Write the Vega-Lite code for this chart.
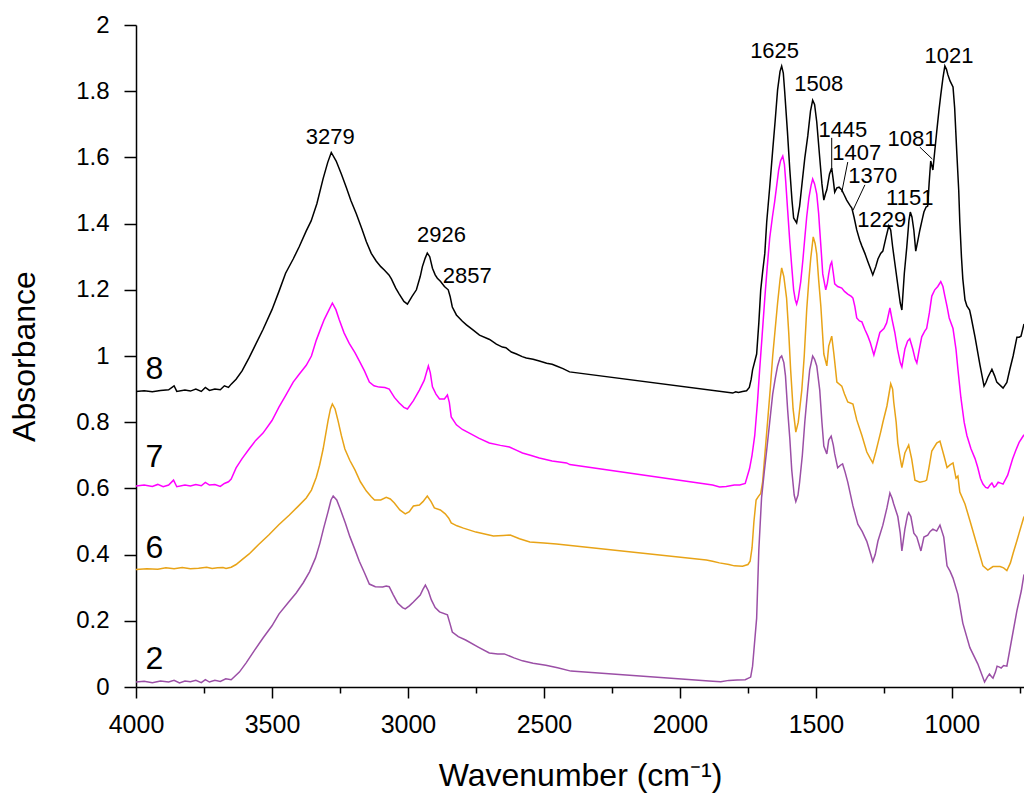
{
"$schema":"https://vega.github.io/schema/vega-lite/v6.json",
"width":888,"height":662,
"autosize":{"type":"none"},
"padding":{"left":136,"top":25,"right":0,"bottom":108},
"background":"white",
"config":{"view":{"stroke":null},"font":"Liberation Sans"},
"datasets":{
"spectra":[
{"s":"8","w":4000,"a":0.893},{"s":"8","w":3970,"a":0.895},{"s":"8","w":3940,"a":0.892},{"s":"8","w":3910,"a":0.896},{"s":"8","w":3880,"a":0.898},{"s":"8","w":3860,"a":0.91},{"s":"8","w":3850,"a":0.893},{"s":"8","w":3820,"a":0.897},{"s":"8","w":3800,"a":0.894},{"s":"8","w":3780,"a":0.9},{"s":"8","w":3760,"a":0.893},{"s":"8","w":3745,"a":0.905},{"s":"8","w":3730,"a":0.896},{"s":"8","w":3710,"a":0.9},{"s":"8","w":3690,"a":0.898},{"s":"8","w":3675,"a":0.91},{"s":"8","w":3660,"a":0.905},{"s":"8","w":3650,"a":0.915},{"s":"8","w":3632,"a":0.93},{"s":"8","w":3610,"a":0.955},{"s":"8","w":3584,"a":0.995},{"s":"8","w":3560,"a":1.035},{"s":"8","w":3533,"a":1.08},{"s":"8","w":3500,"a":1.14},{"s":"8","w":3474,"a":1.196},{"s":"8","w":3450,"a":1.25},{"s":"8","w":3422,"a":1.293},{"s":"8","w":3400,"a":1.33},{"s":"8","w":3374,"a":1.378},{"s":"8","w":3356,"a":1.408},{"s":"8","w":3335,"a":1.46},{"s":"8","w":3312,"a":1.536},{"s":"8","w":3295,"a":1.585},{"s":"8","w":3282,"a":1.615},{"s":"8","w":3264,"a":1.589},{"s":"8","w":3245,"a":1.55},{"s":"8","w":3227,"a":1.51},{"s":"8","w":3210,"a":1.47},{"s":"8","w":3190,"a":1.43},{"s":"8","w":3170,"a":1.385},{"s":"8","w":3153,"a":1.345},{"s":"8","w":3135,"a":1.31},{"s":"8","w":3117,"a":1.287},{"s":"8","w":3100,"a":1.27},{"s":"8","w":3087,"a":1.26},{"s":"8","w":3070,"a":1.245},{"s":"8","w":3061,"a":1.233},{"s":"8","w":3045,"a":1.205},{"s":"8","w":3032,"a":1.187},{"s":"8","w":3015,"a":1.165},{"s":"8","w":3002,"a":1.157},{"s":"8","w":2985,"a":1.18},{"s":"8","w":2969,"a":1.2},{"s":"8","w":2955,"a":1.24},{"s":"8","w":2947,"a":1.27},{"s":"8","w":2937,"a":1.295},{"s":"8","w":2929,"a":1.311},{"s":"8","w":2920,"a":1.3},{"s":"8","w":2910,"a":1.265},{"s":"8","w":2900,"a":1.245},{"s":"8","w":2892,"a":1.235},{"s":"8","w":2880,"a":1.225},{"s":"8","w":2866,"a":1.21},{"s":"8","w":2852,"a":1.2},{"s":"8","w":2845,"a":1.18},{"s":"8","w":2837,"a":1.148},{"s":"8","w":2822,"a":1.124},{"s":"8","w":2800,"a":1.105},{"s":"8","w":2785,"a":1.094},{"s":"8","w":2760,"a":1.078},{"s":"8","w":2737,"a":1.063},{"s":"8","w":2700,"a":1.05},{"s":"8","w":2675,"a":1.036},{"s":"8","w":2653,"a":1.027},{"s":"8","w":2640,"a":1.025},{"s":"8","w":2620,"a":1.012},{"s":"8","w":2601,"a":1.006},{"s":"8","w":2580,"a":0.998},{"s":"8","w":2565,"a":0.994},{"s":"8","w":2540,"a":0.99},{"s":"8","w":2517,"a":0.985},{"s":"8","w":2490,"a":0.978},{"s":"8","w":2470,"a":0.975},{"s":"8","w":2454,"a":0.97},{"s":"8","w":2430,"a":0.962},{"s":"8","w":2406,"a":0.952},{"s":"8","w":1806,"a":0.888},{"s":"8","w":1795,"a":0.892},{"s":"8","w":1785,"a":0.89},{"s":"8","w":1770,"a":0.893},{"s":"8","w":1755,"a":0.895},{"s":"8","w":1745,"a":0.905},{"s":"8","w":1738,"a":0.93},{"s":"8","w":1733,"a":0.958},{"s":"8","w":1718,"a":1.006},{"s":"8","w":1710,"a":1.1},{"s":"8","w":1703,"a":1.2},{"s":"8","w":1696,"a":1.254},{"s":"8","w":1688,"a":1.31},{"s":"8","w":1681,"a":1.405},{"s":"8","w":1670,"a":1.51},{"s":"8","w":1659,"a":1.622},{"s":"8","w":1650,"a":1.71},{"s":"8","w":1641,"a":1.804},{"s":"8","w":1632,"a":1.86},{"s":"8","w":1626,"a":1.876},{"s":"8","w":1620,"a":1.855},{"s":"8","w":1615,"a":1.8},{"s":"8","w":1605,"a":1.68},{"s":"8","w":1596,"a":1.562},{"s":"8","w":1588,"a":1.47},{"s":"8","w":1582,"a":1.417},{"s":"8","w":1571,"a":1.402},{"s":"8","w":1560,"a":1.453},{"s":"8","w":1550,"a":1.53},{"s":"8","w":1541,"a":1.598},{"s":"8","w":1530,"a":1.665},{"s":"8","w":1520,"a":1.74},{"s":"8","w":1512,"a":1.773},{"s":"8","w":1505,"a":1.76},{"s":"8","w":1497,"a":1.707},{"s":"8","w":1486,"a":1.598},{"s":"8","w":1478,"a":1.52},{"s":"8","w":1471,"a":1.471},{"s":"8","w":1465,"a":1.49},{"s":"8","w":1460,"a":1.502},{"s":"8","w":1450,"a":1.55},{"s":"8","w":1442,"a":1.568},{"s":"8","w":1436,"a":1.53},{"s":"8","w":1431,"a":1.495},{"s":"8","w":1423,"a":1.508},{"s":"8","w":1415,"a":1.51},{"s":"8","w":1405,"a":1.502},{"s":"8","w":1395,"a":1.485},{"s":"8","w":1387,"a":1.471},{"s":"8","w":1375,"a":1.455},{"s":"8","w":1368,"a":1.447},{"s":"8","w":1360,"a":1.42},{"s":"8","w":1350,"a":1.381},{"s":"8","w":1339,"a":1.35},{"s":"8","w":1331,"a":1.332},{"s":"8","w":1320,"a":1.31},{"s":"8","w":1309,"a":1.285},{"s":"8","w":1300,"a":1.265},{"s":"8","w":1291,"a":1.245},{"s":"8","w":1280,"a":1.27},{"s":"8","w":1272,"a":1.293},{"s":"8","w":1262,"a":1.31},{"s":"8","w":1254,"a":1.317},{"s":"8","w":1242,"a":1.36},{"s":"8","w":1232,"a":1.393},{"s":"8","w":1225,"a":1.38},{"s":"8","w":1218,"a":1.33},{"s":"8","w":1210,"a":1.281},{"s":"8","w":1200,"a":1.22},{"s":"8","w":1190,"a":1.16},{"s":"8","w":1184,"a":1.139},{"s":"8","w":1175,"a":1.25},{"s":"8","w":1166,"a":1.329},{"s":"8","w":1158,"a":1.41},{"s":"8","w":1153,"a":1.435},{"s":"8","w":1147,"a":1.42},{"s":"8","w":1140,"a":1.38},{"s":"8","w":1133,"a":1.317},{"s":"8","w":1125,"a":1.35},{"s":"8","w":1118,"a":1.38},{"s":"8","w":1110,"a":1.41},{"s":"8","w":1103,"a":1.435},{"s":"8","w":1095,"a":1.45},{"s":"8","w":1089,"a":1.453},{"s":"8","w":1084,"a":1.52},{"s":"8","w":1078,"a":1.589},{"s":"8","w":1070,"a":1.562},{"s":"8","w":1063,"a":1.62},{"s":"8","w":1056,"a":1.677},{"s":"8","w":1048,"a":1.74},{"s":"8","w":1041,"a":1.789},{"s":"8","w":1033,"a":1.84},{"s":"8","w":1026,"a":1.876},{"s":"8","w":1020,"a":1.866},{"s":"8","w":1015,"a":1.85},{"s":"8","w":1007,"a":1.831},{"s":"8","w":996,"a":1.813},{"s":"8","w":990,"a":1.75},{"s":"8","w":982,"a":1.613},{"s":"8","w":975,"a":1.5},{"s":"8","w":971,"a":1.405},{"s":"8","w":965,"a":1.3},{"s":"8","w":960,"a":1.233},{"s":"8","w":952,"a":1.17},{"s":"8","w":945,"a":1.151},{"s":"8","w":935,"a":1.139},{"s":"8","w":930,"a":1.12},{"s":"8","w":915,"a":1.057},{"s":"8","w":897,"a":0.973},{"s":"8","w":882,"a":0.909},{"s":"8","w":875,"a":0.92},{"s":"8","w":868,"a":0.935},{"s":"8","w":853,"a":0.96},{"s":"8","w":843,"a":0.94},{"s":"8","w":835,"a":0.921},{"s":"8","w":812,"a":0.903},{"s":"8","w":798,"a":0.92},{"s":"8","w":787,"a":0.96},{"s":"8","w":775,"a":1.0},{"s":"8","w":761,"a":1.057},{"s":"8","w":753,"a":1.057},{"s":"8","w":746,"a":1.06},{"s":"8","w":735,"a":1.097},

{"s":"7","w":4000,"a":0.607},{"s":"7","w":3970,"a":0.61},{"s":"7","w":3940,"a":0.606},{"s":"7","w":3920,"a":0.612},{"s":"7","w":3900,"a":0.605},{"s":"7","w":3880,"a":0.61},{"s":"7","w":3862,"a":0.625},{"s":"7","w":3850,"a":0.605},{"s":"7","w":3820,"a":0.61},{"s":"7","w":3800,"a":0.607},{"s":"7","w":3780,"a":0.612},{"s":"7","w":3760,"a":0.608},{"s":"7","w":3745,"a":0.618},{"s":"7","w":3730,"a":0.61},{"s":"7","w":3710,"a":0.612},{"s":"7","w":3690,"a":0.606},{"s":"7","w":3675,"a":0.615},{"s":"7","w":3660,"a":0.62},{"s":"7","w":3650,"a":0.628},{"s":"7","w":3632,"a":0.662},{"s":"7","w":3610,"a":0.69},{"s":"7","w":3584,"a":0.719},{"s":"7","w":3560,"a":0.745},{"s":"7","w":3533,"a":0.767},{"s":"7","w":3500,"a":0.805},{"s":"7","w":3474,"a":0.846},{"s":"7","w":3450,"a":0.88},{"s":"7","w":3422,"a":0.921},{"s":"7","w":3400,"a":0.945},{"s":"7","w":3374,"a":0.972},{"s":"7","w":3355,"a":1.0},{"s":"7","w":3337,"a":1.048},{"s":"7","w":3320,"a":1.085},{"s":"7","w":3308,"a":1.11},{"s":"7","w":3290,"a":1.14},{"s":"7","w":3278,"a":1.16},{"s":"7","w":3265,"a":1.14},{"s":"7","w":3253,"a":1.11},{"s":"7","w":3235,"a":1.07},{"s":"7","w":3216,"a":1.038},{"s":"7","w":3195,"a":1.01},{"s":"7","w":3179,"a":0.985},{"s":"7","w":3160,"a":0.955},{"s":"7","w":3142,"a":0.921},{"s":"7","w":3125,"a":0.91},{"s":"7","w":3106,"a":0.906},{"s":"7","w":3085,"a":0.905},{"s":"7","w":3069,"a":0.9},{"s":"7","w":3050,"a":0.875},{"s":"7","w":3032,"a":0.858},{"s":"7","w":3015,"a":0.845},{"s":"7","w":3002,"a":0.84},{"s":"7","w":2980,"a":0.865},{"s":"7","w":2958,"a":0.897},{"s":"7","w":2940,"a":0.927},{"s":"7","w":2932,"a":0.95},{"s":"7","w":2925,"a":0.97},{"s":"7","w":2918,"a":0.95},{"s":"7","w":2910,"a":0.907},{"s":"7","w":2897,"a":0.885},{"s":"7","w":2884,"a":0.87},{"s":"7","w":2866,"a":0.87},{"s":"7","w":2855,"a":0.882},{"s":"7","w":2848,"a":0.86},{"s":"7","w":2841,"a":0.816},{"s":"7","w":2822,"a":0.792},{"s":"7","w":2800,"a":0.778},{"s":"7","w":2774,"a":0.767},{"s":"7","w":2740,"a":0.752},{"s":"7","w":2701,"a":0.737},{"s":"7","w":2660,"a":0.73},{"s":"7","w":2627,"a":0.725},{"s":"7","w":2600,"a":0.715},{"s":"7","w":2579,"a":0.707},{"s":"7","w":2550,"a":0.7},{"s":"7","w":2517,"a":0.692},{"s":"7","w":2470,"a":0.683},{"s":"7","w":2417,"a":0.677},{"s":"7","w":2405,"a":0.672},{"s":"7","w":1880,"a":0.61},{"s":"7","w":1854,"a":0.604},{"s":"7","w":1830,"a":0.606},{"s":"7","w":1800,"a":0.61},{"s":"7","w":1780,"a":0.61},{"s":"7","w":1760,"a":0.615},{"s":"7","w":1744,"a":0.66},{"s":"7","w":1735,"a":0.7},{"s":"7","w":1725,"a":0.76},{"s":"7","w":1715,"a":0.86},{"s":"7","w":1707,"a":0.958},{"s":"7","w":1698,"a":1.06},{"s":"7","w":1688,"a":1.175},{"s":"7","w":1679,"a":1.27},{"s":"7","w":1670,"a":1.356},{"s":"7","w":1660,"a":1.42},{"s":"7","w":1652,"a":1.465},{"s":"7","w":1645,"a":1.51},{"s":"7","w":1637,"a":1.562},{"s":"7","w":1630,"a":1.59},{"s":"7","w":1622,"a":1.604},{"s":"7","w":1616,"a":1.58},{"s":"7","w":1611,"a":1.526},{"s":"7","w":1604,"a":1.44},{"s":"7","w":1596,"a":1.344},{"s":"7","w":1589,"a":1.27},{"s":"7","w":1582,"a":1.2},{"s":"7","w":1576,"a":1.17},{"s":"7","w":1571,"a":1.157},{"s":"7","w":1565,"a":1.175},{"s":"7","w":1556,"a":1.224},{"s":"7","w":1548,"a":1.29},{"s":"7","w":1541,"a":1.356},{"s":"7","w":1534,"a":1.42},{"s":"7","w":1526,"a":1.477},{"s":"7","w":1518,"a":1.515},{"s":"7","w":1512,"a":1.535},{"s":"7","w":1505,"a":1.52},{"s":"7","w":1497,"a":1.489},{"s":"7","w":1490,"a":1.43},{"s":"7","w":1486,"a":1.381},{"s":"7","w":1480,"a":1.31},{"s":"7","w":1475,"a":1.248},{"s":"7","w":1464,"a":1.2},{"s":"7","w":1458,"a":1.22},{"s":"7","w":1453,"a":1.248},{"s":"7","w":1447,"a":1.275},{"s":"7","w":1442,"a":1.284},{"s":"7","w":1436,"a":1.25},{"s":"7","w":1431,"a":1.218},{"s":"7","w":1420,"a":1.21},{"s":"7","w":1405,"a":1.205},{"s":"7","w":1395,"a":1.195},{"s":"7","w":1383,"a":1.187},{"s":"7","w":1370,"a":1.18},{"s":"7","w":1364,"a":1.175},{"s":"7","w":1357,"a":1.15},{"s":"7","w":1350,"a":1.115},{"s":"7","w":1340,"a":1.106},{"s":"7","w":1331,"a":1.103},{"s":"7","w":1320,"a":1.08},{"s":"7","w":1309,"a":1.06},{"s":"7","w":1300,"a":1.04},{"s":"7","w":1287,"a":1.003},{"s":"7","w":1278,"a":1.03},{"s":"7","w":1265,"a":1.071},{"s":"7","w":1250,"a":1.083},{"s":"7","w":1240,"a":1.1},{"s":"7","w":1228,"a":1.145},{"s":"7","w":1220,"a":1.11},{"s":"7","w":1210,"a":1.071},{"s":"7","w":1200,"a":1.02},{"s":"7","w":1190,"a":0.98},{"s":"7","w":1184,"a":0.967},{"s":"7","w":1173,"a":1.021},{"s":"7","w":1163,"a":1.045},{"s":"7","w":1155,"a":1.052},{"s":"7","w":1144,"a":1.021},{"s":"7","w":1135,"a":0.99},{"s":"7","w":1129,"a":0.979},{"s":"7","w":1120,"a":1.02},{"s":"7","w":1111,"a":1.058},{"s":"7","w":1100,"a":1.075},{"s":"7","w":1093,"a":1.083},{"s":"7","w":1083,"a":1.13},{"s":"7","w":1074,"a":1.181},{"s":"7","w":1063,"a":1.2},{"s":"7","w":1052,"a":1.21},{"s":"7","w":1041,"a":1.225},{"s":"7","w":1033,"a":1.21},{"s":"7","w":1026,"a":1.181},{"s":"7","w":1018,"a":1.15},{"s":"7","w":1010,"a":1.115},{"s":"7","w":996,"a":1.083},{"s":"7","w":985,"a":1.02},{"s":"7","w":978,"a":0.96},{"s":"7","w":967,"a":0.874},{"s":"7","w":955,"a":0.8},{"s":"7","w":945,"a":0.76},{"s":"7","w":930,"a":0.72},{"s":"7","w":915,"a":0.69},{"s":"7","w":905,"a":0.663},{"s":"7","w":895,"a":0.63},{"s":"7","w":886,"a":0.613},{"s":"7","w":876,"a":0.603},{"s":"7","w":868,"a":0.601},{"s":"7","w":860,"a":0.61},{"s":"7","w":853,"a":0.616},{"s":"7","w":845,"a":0.604},{"s":"7","w":838,"a":0.608},{"s":"7","w":830,"a":0.619},{"s":"7","w":812,"a":0.613},{"s":"7","w":795,"a":0.64},{"s":"7","w":777,"a":0.689},{"s":"7","w":765,"a":0.715},{"s":"7","w":753,"a":0.739},{"s":"7","w":735,"a":0.762},

{"s":"6","w":4000,"a":0.355},{"s":"6","w":3960,"a":0.357},{"s":"6","w":3920,"a":0.356},{"s":"6","w":3890,"a":0.36},{"s":"6","w":3860,"a":0.357},{"s":"6","w":3830,"a":0.361},{"s":"6","w":3800,"a":0.357},{"s":"6","w":3770,"a":0.359},{"s":"6","w":3740,"a":0.362},{"s":"6","w":3720,"a":0.358},{"s":"6","w":3700,"a":0.36},{"s":"6","w":3680,"a":0.361},{"s":"6","w":3669,"a":0.358},{"s":"6","w":3650,"a":0.362},{"s":"6","w":3632,"a":0.37},{"s":"6","w":3610,"a":0.385},{"s":"6","w":3584,"a":0.402},{"s":"6","w":3550,"a":0.43},{"s":"6","w":3511,"a":0.46},{"s":"6","w":3475,"a":0.49},{"s":"6","w":3437,"a":0.519},{"s":"6","w":3405,"a":0.545},{"s":"6","w":3374,"a":0.571},{"s":"6","w":3355,"a":0.595},{"s":"6","w":3337,"a":0.634},{"s":"6","w":3325,"a":0.67},{"s":"6","w":3312,"a":0.719},{"s":"6","w":3294,"a":0.804},{"s":"6","w":3285,"a":0.84},{"s":"6","w":3278,"a":0.855},{"s":"6","w":3268,"a":0.84},{"s":"6","w":3257,"a":0.804},{"s":"6","w":3245,"a":0.76},{"s":"6","w":3232,"a":0.719},{"s":"6","w":3214,"a":0.685},{"s":"6","w":3195,"a":0.656},{"s":"6","w":3175,"a":0.62},{"s":"6","w":3153,"a":0.592},{"s":"6","w":3135,"a":0.575},{"s":"6","w":3123,"a":0.565},{"s":"6","w":3100,"a":0.565},{"s":"6","w":3080,"a":0.573},{"s":"6","w":3065,"a":0.568},{"s":"6","w":3050,"a":0.556},{"s":"6","w":3030,"a":0.535},{"s":"6","w":3010,"a":0.523},{"s":"6","w":2995,"a":0.53},{"s":"6","w":2980,"a":0.547},{"s":"6","w":2958,"a":0.55},{"s":"6","w":2945,"a":0.56},{"s":"6","w":2929,"a":0.577},{"s":"6","w":2915,"a":0.56},{"s":"6","w":2903,"a":0.541},{"s":"6","w":2881,"a":0.535},{"s":"6","w":2863,"a":0.523},{"s":"6","w":2850,"a":0.51},{"s":"6","w":2841,"a":0.496},{"s":"6","w":2820,"a":0.487},{"s":"6","w":2796,"a":0.48},{"s":"6","w":2750,"a":0.468},{"s":"6","w":2686,"a":0.456},{"s":"6","w":2650,"a":0.458},{"s":"6","w":2624,"a":0.459},{"s":"6","w":2590,"a":0.448},{"s":"6","w":2552,"a":0.438},{"s":"6","w":2500,"a":0.435},{"s":"6","w":2454,"a":0.432},{"s":"6","w":1903,"a":0.384},{"s":"6","w":1880,"a":0.38},{"s":"6","w":1855,"a":0.375},{"s":"6","w":1820,"a":0.37},{"s":"6","w":1800,"a":0.366},{"s":"6","w":1770,"a":0.365},{"s":"6","w":1750,"a":0.37},{"s":"6","w":1742,"a":0.38},{"s":"6","w":1735,"a":0.42},{"s":"6","w":1728,"a":0.5},{"s":"6","w":1720,"a":0.565},{"s":"6","w":1712,"a":0.575},{"s":"6","w":1703,"a":0.585},{"s":"6","w":1696,"a":0.62},{"s":"6","w":1688,"a":0.7},{"s":"6","w":1678,"a":0.8},{"s":"6","w":1668,"a":0.9},{"s":"6","w":1659,"a":1.0},{"s":"6","w":1650,"a":1.08},{"s":"6","w":1641,"a":1.16},{"s":"6","w":1632,"a":1.23},{"s":"6","w":1626,"a":1.266},{"s":"6","w":1618,"a":1.24},{"s":"6","w":1608,"a":1.175},{"s":"6","w":1600,"a":1.07},{"s":"6","w":1593,"a":0.958},{"s":"6","w":1584,"a":0.84},{"s":"6","w":1574,"a":0.77},{"s":"6","w":1565,"a":0.8},{"s":"6","w":1552,"a":0.897},{"s":"6","w":1543,"a":1.0},{"s":"6","w":1534,"a":1.139},{"s":"6","w":1526,"a":1.23},{"s":"6","w":1519,"a":1.296},{"s":"6","w":1510,"a":1.36},{"s":"6","w":1503,"a":1.34},{"s":"6","w":1497,"a":1.308},{"s":"6","w":1490,"a":1.23},{"s":"6","w":1482,"a":1.151},{"s":"6","w":1471,"a":1.006},{"s":"6","w":1460,"a":0.97},{"s":"6","w":1453,"a":1.03},{"s":"6","w":1442,"a":1.06},{"s":"6","w":1434,"a":1.006},{"s":"6","w":1423,"a":0.921},{"s":"6","w":1405,"a":0.909},{"s":"6","w":1395,"a":0.885},{"s":"6","w":1383,"a":0.861},{"s":"6","w":1364,"a":0.855},{"s":"6","w":1350,"a":0.807},{"s":"6","w":1331,"a":0.76},{"s":"6","w":1313,"a":0.71},{"s":"6","w":1300,"a":0.69},{"s":"6","w":1291,"a":0.677},{"s":"6","w":1280,"a":0.71},{"s":"6","w":1272,"a":0.737},{"s":"6","w":1262,"a":0.77},{"s":"6","w":1254,"a":0.799},{"s":"6","w":1239,"a":0.849},{"s":"6","w":1225,"a":0.916},{"s":"6","w":1218,"a":0.9},{"s":"6","w":1214,"a":0.861},{"s":"6","w":1205,"a":0.8},{"s":"6","w":1199,"a":0.737},{"s":"6","w":1190,"a":0.69},{"s":"6","w":1184,"a":0.663},{"s":"6","w":1173,"a":0.707},{"s":"6","w":1159,"a":0.731},{"s":"6","w":1148,"a":0.689},{"s":"6","w":1136,"a":0.625},{"s":"6","w":1118,"a":0.619},{"s":"6","w":1100,"a":0.622},{"s":"6","w":1093,"a":0.625},{"s":"6","w":1085,"a":0.66},{"s":"6","w":1074,"a":0.713},{"s":"6","w":1056,"a":0.737},{"s":"6","w":1044,"a":0.743},{"s":"6","w":1030,"a":0.701},{"s":"6","w":1018,"a":0.663},{"s":"6","w":1007,"a":0.671},{"s":"6","w":996,"a":0.677},{"s":"6","w":985,"a":0.631},{"s":"6","w":978,"a":0.637},{"s":"6","w":971,"a":0.589},{"s":"6","w":952,"a":0.553},{"s":"6","w":934,"a":0.503},{"s":"6","w":908,"a":0.429},{"s":"6","w":886,"a":0.366},{"s":"6","w":868,"a":0.353},{"s":"6","w":849,"a":0.364},{"s":"6","w":823,"a":0.364},{"s":"6","w":810,"a":0.36},{"s":"6","w":798,"a":0.352},{"s":"6","w":785,"a":0.375},{"s":"6","w":775,"a":0.404},{"s":"6","w":760,"a":0.445},{"s":"6","w":753,"a":0.465},{"s":"6","w":735,"a":0.515},

{"s":"2","w":4000,"a":0.015},{"s":"2","w":3970,"a":0.017},{"s":"2","w":3940,"a":0.013},{"s":"2","w":3910,"a":0.018},{"s":"2","w":3880,"a":0.015},{"s":"2","w":3860,"a":0.02},{"s":"2","w":3840,"a":0.012},{"s":"2","w":3820,"a":0.018},{"s":"2","w":3800,"a":0.016},{"s":"2","w":3780,"a":0.02},{"s":"2","w":3760,"a":0.013},{"s":"2","w":3745,"a":0.022},{"s":"2","w":3730,"a":0.015},{"s":"2","w":3710,"a":0.02},{"s":"2","w":3690,"a":0.017},{"s":"2","w":3670,"a":0.025},{"s":"2","w":3650,"a":0.022},{"s":"2","w":3620,"a":0.045},{"s":"2","w":3595,"a":0.073},{"s":"2","w":3565,"a":0.11},{"s":"2","w":3533,"a":0.148},{"s":"2","w":3500,"a":0.185},{"s":"2","w":3474,"a":0.221},{"s":"2","w":3440,"a":0.255},{"s":"2","w":3411,"a":0.284},{"s":"2","w":3385,"a":0.315},{"s":"2","w":3362,"a":0.348},{"s":"2","w":3340,"a":0.39},{"s":"2","w":3324,"a":0.434},{"s":"2","w":3310,"a":0.48},{"s":"2","w":3294,"a":0.529},{"s":"2","w":3283,"a":0.565},{"s":"2","w":3275,"a":0.577},{"s":"2","w":3262,"a":0.565},{"s":"2","w":3250,"a":0.54},{"s":"2","w":3230,"a":0.495},{"s":"2","w":3214,"a":0.455},{"s":"2","w":3195,"a":0.415},{"s":"2","w":3179,"a":0.38},{"s":"2","w":3160,"a":0.345},{"s":"2","w":3142,"a":0.311},{"s":"2","w":3120,"a":0.303},{"s":"2","w":3093,"a":0.302},{"s":"2","w":3080,"a":0.305},{"s":"2","w":3069,"a":0.303},{"s":"2","w":3055,"a":0.28},{"s":"2","w":3038,"a":0.254},{"s":"2","w":3020,"a":0.24},{"s":"2","w":3010,"a":0.236},{"s":"2","w":2995,"a":0.245},{"s":"2","w":2980,"a":0.257},{"s":"2","w":2955,"a":0.278},{"s":"2","w":2945,"a":0.295},{"s":"2","w":2936,"a":0.308},{"s":"2","w":2925,"a":0.29},{"s":"2","w":2914,"a":0.263},{"s":"2","w":2900,"a":0.24},{"s":"2","w":2884,"a":0.227},{"s":"2","w":2855,"a":0.218},{"s":"2","w":2845,"a":0.19},{"s":"2","w":2837,"a":0.166},{"s":"2","w":2815,"a":0.152},{"s":"2","w":2788,"a":0.142},{"s":"2","w":2740,"a":0.12},{"s":"2","w":2701,"a":0.103},{"s":"2","w":2670,"a":0.1},{"s":"2","w":2646,"a":0.1},{"s":"2","w":2610,"a":0.088},{"s":"2","w":2579,"a":0.079},{"s":"2","w":2540,"a":0.072},{"s":"2","w":2493,"a":0.066},{"s":"2","w":2450,"a":0.058},{"s":"2","w":2401,"a":0.048},{"s":"2","w":1893,"a":0.018},{"s":"2","w":1850,"a":0.016},{"s":"2","w":1820,"a":0.02},{"s":"2","w":1790,"a":0.021},{"s":"2","w":1760,"a":0.022},{"s":"2","w":1740,"a":0.03},{"s":"2","w":1733,"a":0.063},{"s":"2","w":1718,"a":0.208},{"s":"2","w":1710,"a":0.414},{"s":"2","w":1700,"a":0.571},{"s":"2","w":1690,"a":0.65},{"s":"2","w":1681,"a":0.716},{"s":"2","w":1670,"a":0.8},{"s":"2","w":1659,"a":0.885},{"s":"2","w":1650,"a":0.93},{"s":"2","w":1641,"a":0.97},{"s":"2","w":1632,"a":0.995},{"s":"2","w":1626,"a":1.0},{"s":"2","w":1618,"a":0.98},{"s":"2","w":1612,"a":0.94},{"s":"2","w":1604,"a":0.837},{"s":"2","w":1596,"a":0.75},{"s":"2","w":1589,"a":0.656},{"s":"2","w":1580,"a":0.58},{"s":"2","w":1574,"a":0.56},{"s":"2","w":1566,"a":0.58},{"s":"2","w":1560,"a":0.619},{"s":"2","w":1550,"a":0.7},{"s":"2","w":1541,"a":0.8},{"s":"2","w":1530,"a":0.9},{"s":"2","w":1523,"a":0.958},{"s":"2","w":1512,"a":1.0},{"s":"2","w":1505,"a":0.99},{"s":"2","w":1497,"a":0.97},{"s":"2","w":1486,"a":0.897},{"s":"2","w":1478,"a":0.8},{"s":"2","w":1471,"a":0.728},{"s":"2","w":1460,"a":0.704},{"s":"2","w":1453,"a":0.746},{"s":"2","w":1444,"a":0.758},{"s":"2","w":1436,"a":0.73},{"s":"2","w":1431,"a":0.704},{"s":"2","w":1420,"a":0.662},{"s":"2","w":1410,"a":0.67},{"s":"2","w":1402,"a":0.674},{"s":"2","w":1393,"a":0.65},{"s":"2","w":1383,"a":0.619},{"s":"2","w":1364,"a":0.547},{"s":"2","w":1346,"a":0.492},{"s":"2","w":1330,"a":0.47},{"s":"2","w":1313,"a":0.44},{"s":"2","w":1300,"a":0.405},{"s":"2","w":1291,"a":0.379},{"s":"2","w":1282,"a":0.4},{"s":"2","w":1272,"a":0.441},{"s":"2","w":1254,"a":0.489},{"s":"2","w":1239,"a":0.541},{"s":"2","w":1228,"a":0.586},{"s":"2","w":1220,"a":0.57},{"s":"2","w":1214,"a":0.553},{"s":"2","w":1199,"a":0.515},{"s":"2","w":1190,"a":0.465},{"s":"2","w":1184,"a":0.411},{"s":"2","w":1173,"a":0.477},{"s":"2","w":1163,"a":0.52},{"s":"2","w":1159,"a":0.527},{"s":"2","w":1151,"a":0.515},{"s":"2","w":1140,"a":0.465},{"s":"2","w":1129,"a":0.453},{"s":"2","w":1114,"a":0.411},{"s":"2","w":1103,"a":0.453},{"s":"2","w":1089,"a":0.459},{"s":"2","w":1080,"a":0.47},{"s":"2","w":1070,"a":0.477},{"s":"2","w":1056,"a":0.471},{"s":"2","w":1044,"a":0.489},{"s":"2","w":1030,"a":0.453},{"s":"2","w":1018,"a":0.366},{"s":"2","w":1007,"a":0.35},{"s":"2","w":996,"a":0.329},{"s":"2","w":978,"a":0.28},{"s":"2","w":960,"a":0.193},{"s":"2","w":934,"a":0.119},{"s":"2","w":905,"a":0.07},{"s":"2","w":880,"a":0.015},{"s":"2","w":870,"a":0.03},{"s":"2","w":862,"a":0.039},{"s":"2","w":855,"a":0.032},{"s":"2","w":849,"a":0.027},{"s":"2","w":840,"a":0.045},{"s":"2","w":834,"a":0.063},{"s":"2","w":825,"a":0.06},{"s":"2","w":819,"a":0.057},{"s":"2","w":810,"a":0.065},{"s":"2","w":798,"a":0.063},{"s":"2","w":780,"a":0.145},{"s":"2","w":761,"a":0.231},{"s":"2","w":745,"a":0.29},{"s":"2","w":735,"a":0.34}
],
"peaks":[
{"w":3286,"a":1.662,"t":"3279"},{"w":2877,"a":1.366,"t":"2926"},{"w":2782,"a":1.242,"t":"2857"},
{"w":1652,"a":1.921,"t":"1625"},{"w":1490,"a":1.823,"t":"1508"},{"w":1401,"a":1.684,"t":"1445"},
{"w":1350,"a":1.612,"t":"1407"},{"w":1291,"a":1.545,"t":"1370"},{"w":1258,"a":1.41,"t":"1229"},
{"w":1155,"a":1.478,"t":"1151"},{"w":1147,"a":1.656,"t":"1081"},{"w":1011,"a":1.906,"t":"1021"}
],
"leaders":[
{"w":1442,"w2":1442,"a":1.659,"a2":1.565},
{"w":1383,"w2":1405,"a":1.586,"a2":1.495},
{"w":1320,"w2":1364,"a":1.517,"a2":1.44},
{"w":1118,"w2":1072,"a":1.631,"a2":1.595}
],
"series":[
{"w":3932,"a":0.961,"t":"8"},{"w":3932,"a":0.695,"t":"7"},{"w":3932,"a":0.42,"t":"6"},{"w":3932,"a":0.086,"t":"2"}
]
},
"layer":[
{"data":{"name":"spectra"},
 "mark":{"type":"line","strokeWidth":1.5,"clip":true},
 "encoding":{
  "x":{"field":"w","type":"quantitative",
   "scale":{"domain":[735,4000],"reverse":true,"nice":false,"zero":false},
   "axis":{"title":"Wavenumber (cm⁻¹)","values":[4000,3750,3500,3250,3000,2750,2500,2250,2000,1750,1500,1250,1000,750],
    "labelExpr":"datum.value % 500 === 0 ? toString(datum.value) : ''",
    "tickSize":{"condition":{"test":"datum.value % 500 === 0","value":11},"value":6},
    "tickColor":"black","tickWidth":1.5,"domainColor":"black","domainWidth":1.5,
    "labelFontSize":25,"labelColor":"black","labelFont":"Liberation Sans","labelPadding":14,
    "labelFlush":false,"labelOverlap":false,"grid":false,
    "titleFontSize":32,"titleFontWeight":"normal","titleColor":"black","titleFont":"Liberation Sans","titlePadding":23}},
  "y":{"field":"a","type":"quantitative",
   "scale":{"domain":[0,2],"nice":false,"zero":false},
   "axis":{"title":"Absorbance","values":[0,0.1,0.2,0.3,0.4,0.5,0.6,0.7,0.8,0.9,1,1.1,1.2,1.3,1.4,1.5,1.6,1.7,1.8,1.9,2],
    "labelExpr":"round(datum.value*10) % 2 === 0 ? toString(round(datum.value*10)/10) : ''",
    "tickSize":{"condition":{"test":"round(datum.value*10) % 2 === 0","value":12},"value":7},
    "tickColor":"black","tickWidth":1.5,"domainColor":"black","domainWidth":1.5,
    "labelFontSize":24,"labelColor":"black","labelFont":"Liberation Sans","labelPadding":15,
    "labelFlush":false,"labelOverlap":false,"grid":false,
    "titleFontSize":32,"titleFontWeight":"normal","titleColor":"black","titleFont":"Liberation Sans","titlePadding":34}},
  "color":{"field":"s","type":"nominal","scale":{"domain":["8","7","6","2"],"range":["#000000","#ff00ff","#e8a317","#9b4fa6"]},"legend":null}
 }},
{"data":{"name":"leaders"},
 "mark":{"type":"rule","strokeWidth":1,"color":"black"},
 "encoding":{"x":{"field":"w","type":"quantitative"},"x2":{"field":"w2"},
  "y":{"field":"a","type":"quantitative"},"y2":{"field":"a2"}}},
{"data":{"name":"peaks"},
 "mark":{"type":"text","fontSize":22,"font":"Liberation Sans","align":"center","baseline":"middle","color":"black"},
 "encoding":{"x":{"field":"w","type":"quantitative"},"y":{"field":"a","type":"quantitative"},"text":{"field":"t"}}},
{"data":{"name":"series"},
 "mark":{"type":"text","fontSize":32,"font":"Liberation Sans","align":"center","baseline":"middle","color":"black"},
 "encoding":{"x":{"field":"w","type":"quantitative"},"y":{"field":"a","type":"quantitative"},"text":{"field":"t"}}}
]
}
